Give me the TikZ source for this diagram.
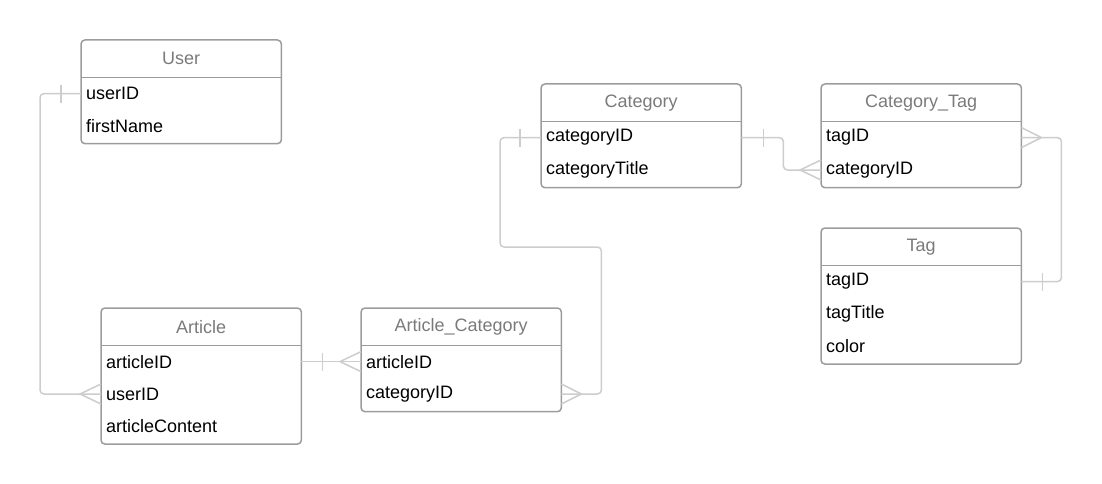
\documentclass[tikz,border=0pt]{standalone}
\usepackage{fontspec}
\setmainfont{Liberation Sans}
\usetikzlibrary{positioning}
\definecolor{boxgray}{HTML}{9C9C9C}
\definecolor{headgray}{HTML}{7A7A7A}
\definecolor{linkgray}{HTML}{CDCDCD}
\tikzset{
 head/.style={text=headgray,minimum width=200pt,minimum height=37pt,inner sep=0pt,font=\fontsize{18}{21}\selectfont},
 field/.style={text width=190pt,inner xsep=5pt,inner ysep=0pt,minimum height=32pt,align=left,font=\fontsize{18}{21}\selectfont},
 frame/.style={draw=boxgray,line width=1.5pt,rounded corners=4pt},
 link/.style={draw=linkgray,line width=1.5pt,rounded corners=4pt}
}
\newcommand{\crow}[2]{\draw[link,rounded corners=0pt] ([yshift=10pt]#1) -- ([xshift=#2]#1) -- ([yshift=-10pt]#1);} %多の記号
\newcommand{\onebar}[2]{\draw[link] ([xshift=#2,yshift=9pt]#1) -- ([xshift=#2,yshift=-9pt]#1);} %一の記号
\begin{document}
\begin{tikzpicture}[x=1pt,y=-1pt]
 \useasboundingbox (0,0) rectangle (1102,484);
 % User
 \node[head,anchor=north west] (user) at (81,40) {User};
 \node[field,below=0pt of user] (user-id) {userID};
 \node[field,below=0pt of user-id] (user-fn) {firstName};
 \draw[frame] (user.north west) rectangle ([yshift=-1.5pt]user-fn.south east);
 \draw[draw=boxgray,line width=1.5pt] (user.south west)--(user.south east);
 % Article
 \node[head,anchor=north west] (art) at (101,308) {Article};
 \node[field,below=0pt of art] (art-id) {articleID};
 \node[field,below=0pt of art-id] (art-uid) {userID};
 \node[field,below=0pt of art-uid] (art-con) {articleContent};
 \draw[frame] (art.north west) rectangle ([yshift=-1.5pt]art-con.south east);
 \draw[draw=boxgray,line width=1.5pt] (art.south west)--(art.south east);
 % Article_Category
 \node[head,anchor=north west] (ac) at (361,308) {Article\_Category};
 \node[field,below=0pt of ac] (ac-aid) {articleID};
 \node[field,below=0pt of ac-aid] (ac-cid) {categoryID};
 \draw[frame] (ac.north west) rectangle ([yshift=-1.5pt]ac-cid.south east);
 \draw[draw=boxgray,line width=1.5pt] (ac.south west)--(ac.south east);
 % Category
 \node[head,anchor=north west] (cat) at (541,84) {Category};
 \node[field,below=0pt of cat] (cat-id) {categoryID};
 \node[field,below=0pt of cat-id] (cat-ti) {categoryTitle};
 \draw[frame] (cat.north west) rectangle ([yshift=-1.5pt]cat-ti.south east);
 \draw[draw=boxgray,line width=1.5pt] (cat.south west)--(cat.south east);
 % Category_Tag
 \node[head,anchor=north west] (ct) at (821,84) {Category\_Tag};
 \node[field,below=0pt of ct] (ct-tid) {tagID};
 \node[field,below=0pt of ct-tid] (ct-cid) {categoryID};
 \draw[frame] (ct.north west) rectangle ([yshift=-1.5pt]ct-cid.south east);
 \draw[draw=boxgray,line width=1.5pt] (ct.south west)--(ct.south east);
 % Tag
 \node[head,anchor=north west] (tag) at (821,228) {Tag};
 \node[field,below=0pt of tag] (tag-id) {tagID};
 \node[field,below=0pt of tag-id] (tag-ti) {tagTitle};
 \node[field,below=0pt of tag-ti] (tag-col) {color};
 \draw[frame] (tag.north west) rectangle ([yshift=-1.5pt]tag-col.south east);
 \draw[draw=boxgray,line width=1.5pt] (tag.south west)--(tag.south east);
 % 関連線
 \draw[link] (user-id.west) -- ([xshift=-41pt]user-id.west) |- (art-uid.west); %User--Article
 \onebar{user-id.west}{-20pt} \crow{art-uid.west}{-21pt}
 \draw[link] (art-id.east) -- (ac-aid.west); %Article--Article_Category
 \onebar{art-id.east}{21pt} \crow{ac-aid.west}{-21pt}
 \draw[link] (ac-cid.east) -| ++(40,-147) -| ([xshift=-41pt]cat-id.west) -- (cat-id.west); %Article_Category--Category
 \crow{ac-cid.east}{20pt} \onebar{cat-id.west}{-21pt}
 \draw[link] (cat-id.east) -- ++(42,0) |- (ct-cid.west); %Category--Category_Tag
 \onebar{cat-id.east}{22pt} \crow{ct-cid.west}{-21pt}
 \draw[link] (ct-tid.east) -- ++(40,0) |- (tag-id.east); %Category_Tag--Tag
 \crow{ct-tid.east}{20pt} \onebar{tag-id.east}{21pt}
\end{tikzpicture}
\end{document}
